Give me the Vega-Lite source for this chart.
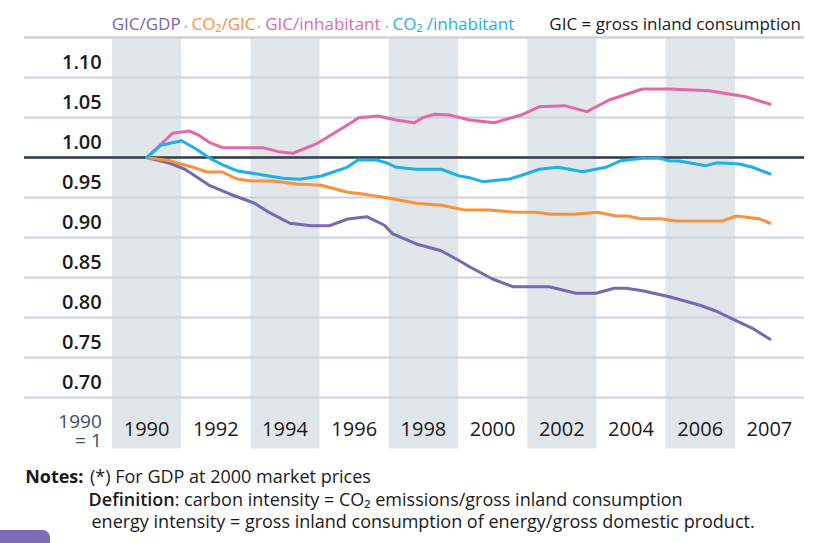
{
  "$schema": "https://vega.github.io/schema/vega-lite/v6.json",
  "width": 780,
  "height": 411,
  "autosize": "none",
  "padding": {"left": 24, "top": 37.5, "right": 18, "bottom": 94.5},
  "background": "white",
  "config": {"view": {"stroke": null}},
  "datasets": {
    "series": [
      {"series": "GIC/GDP", "year": 1990, "value": 1.0},
      {"series": "GIC/GDP", "year": 1990.63, "value": 0.9928},
      {"series": "GIC/GDP", "year": 1991.04, "value": 0.9853},
      {"series": "GIC/GDP", "year": 1991.35, "value": 0.976},
      {"series": "GIC/GDP", "year": 1991.72, "value": 0.9648},
      {"series": "GIC/GDP", "year": 1992.26, "value": 0.9544},
      {"series": "GIC/GDP", "year": 1992.94, "value": 0.9428},
      {"series": "GIC/GDP", "year": 1993.35, "value": 0.931},
      {"series": "GIC/GDP", "year": 1993.9, "value": 0.9178},
      {"series": "GIC/GDP", "year": 1994.49, "value": 0.9148},
      {"series": "GIC/GDP", "year": 1994.99, "value": 0.9148},
      {"series": "GIC/GDP", "year": 1995.48, "value": 0.9231},
      {"series": "GIC/GDP", "year": 1996.0, "value": 0.926},
      {"series": "GIC/GDP", "year": 1996.48, "value": 0.9153},
      {"series": "GIC/GDP", "year": 1996.71, "value": 0.9044},
      {"series": "GIC/GDP", "year": 1997.35, "value": 0.8919},
      {"series": "GIC/GDP", "year": 1998.03, "value": 0.8835},
      {"series": "GIC/GDP", "year": 1998.62, "value": 0.8685},
      {"series": "GIC/GDP", "year": 1998.8, "value": 0.8635},
      {"series": "GIC/GDP", "year": 1999.43, "value": 0.8481},
      {"series": "GIC/GDP", "year": 1999.98, "value": 0.8385},
      {"series": "GIC/GDP", "year": 2000.98, "value": 0.8385},
      {"series": "GIC/GDP", "year": 2001.71, "value": 0.8303},
      {"series": "GIC/GDP", "year": 2002.25, "value": 0.8303},
      {"series": "GIC/GDP", "year": 2002.75, "value": 0.8365},
      {"series": "GIC/GDP", "year": 2003.07, "value": 0.8365},
      {"series": "GIC/GDP", "year": 2003.52, "value": 0.8335},
      {"series": "GIC/GDP", "year": 2004.25, "value": 0.826},
      {"series": "GIC/GDP", "year": 2005.07, "value": 0.8156},
      {"series": "GIC/GDP", "year": 2005.52, "value": 0.8081},
      {"series": "GIC/GDP", "year": 2006.07, "value": 0.796},
      {"series": "GIC/GDP", "year": 2006.52, "value": 0.7865},
      {"series": "GIC/GDP", "year": 2007.0, "value": 0.7728},

      {"series": "CO2/GIC", "year": 1990, "value": 1.0},
      {"series": "CO2/GIC", "year": 1990.63, "value": 0.996},
      {"series": "CO2/GIC", "year": 1991.13, "value": 0.9894},
      {"series": "CO2/GIC", "year": 1991.35, "value": 0.9865},
      {"series": "CO2/GIC", "year": 1991.64, "value": 0.9819},
      {"series": "CO2/GIC", "year": 1992.06, "value": 0.9819},
      {"series": "CO2/GIC", "year": 1992.44, "value": 0.9735},
      {"series": "CO2/GIC", "year": 1992.85, "value": 0.9706},
      {"series": "CO2/GIC", "year": 1993.44, "value": 0.9706},
      {"series": "CO2/GIC", "year": 1994.08, "value": 0.9669},
      {"series": "CO2/GIC", "year": 1994.76, "value": 0.9653},
      {"series": "CO2/GIC", "year": 1995.44, "value": 0.9569},
      {"series": "CO2/GIC", "year": 1995.89, "value": 0.9544},
      {"series": "CO2/GIC", "year": 1996.62, "value": 0.949},
      {"series": "CO2/GIC", "year": 1997.35, "value": 0.9428},
      {"series": "CO2/GIC", "year": 1998.03, "value": 0.9403},
      {"series": "CO2/GIC", "year": 1998.66, "value": 0.9344},
      {"series": "CO2/GIC", "year": 1999.34, "value": 0.9344},
      {"series": "CO2/GIC", "year": 1999.98, "value": 0.9319},
      {"series": "CO2/GIC", "year": 2000.62, "value": 0.9315},
      {"series": "CO2/GIC", "year": 2001.03, "value": 0.929},
      {"series": "CO2/GIC", "year": 2001.66, "value": 0.929},
      {"series": "CO2/GIC", "year": 2002.3, "value": 0.9315},
      {"series": "CO2/GIC", "year": 2002.8, "value": 0.9269},
      {"series": "CO2/GIC", "year": 2003.11, "value": 0.9269},
      {"series": "CO2/GIC", "year": 2003.48, "value": 0.9235},
      {"series": "CO2/GIC", "year": 2004.02, "value": 0.9235},
      {"series": "CO2/GIC", "year": 2004.43, "value": 0.9206},
      {"series": "CO2/GIC", "year": 2005.7, "value": 0.9206},
      {"series": "CO2/GIC", "year": 2006.07, "value": 0.9269},
      {"series": "CO2/GIC", "year": 2006.7, "value": 0.9235},
      {"series": "CO2/GIC", "year": 2007.0, "value": 0.9178},

      {"series": "GIC/inhabitant", "year": 1990, "value": 1.0},
      {"series": "GIC/inhabitant", "year": 1990.7, "value": 1.0303},
      {"series": "GIC/inhabitant", "year": 1991.17, "value": 1.0331},
      {"series": "GIC/inhabitant", "year": 1991.44, "value": 1.0273},
      {"series": "GIC/inhabitant", "year": 1991.72, "value": 1.0185},
      {"series": "GIC/inhabitant", "year": 1992.06, "value": 1.0123},
      {"series": "GIC/inhabitant", "year": 1993.17, "value": 1.0123},
      {"series": "GIC/inhabitant", "year": 1993.58, "value": 1.0073},
      {"series": "GIC/inhabitant", "year": 1993.99, "value": 1.0053},
      {"series": "GIC/inhabitant", "year": 1994.62, "value": 1.0169},
      {"series": "GIC/inhabitant", "year": 1994.99, "value": 1.0273},
      {"series": "GIC/inhabitant", "year": 1995.44, "value": 1.0398},
      {"series": "GIC/inhabitant", "year": 1995.78, "value": 1.0498},
      {"series": "GIC/inhabitant", "year": 1996.3, "value": 1.0519},
      {"series": "GIC/inhabitant", "year": 1996.8, "value": 1.0469},
      {"series": "GIC/inhabitant", "year": 1997.3, "value": 1.0435},
      {"series": "GIC/inhabitant", "year": 1997.53, "value": 1.0498},
      {"series": "GIC/inhabitant", "year": 1997.85, "value": 1.054},
      {"series": "GIC/inhabitant", "year": 1998.25, "value": 1.0531},
      {"series": "GIC/inhabitant", "year": 1998.8, "value": 1.0469},
      {"series": "GIC/inhabitant", "year": 1999.48, "value": 1.0435},
      {"series": "GIC/inhabitant", "year": 2000.21, "value": 1.0531},
      {"series": "GIC/inhabitant", "year": 2000.71, "value": 1.0635},
      {"series": "GIC/inhabitant", "year": 2001.39, "value": 1.0648},
      {"series": "GIC/inhabitant", "year": 2002.0, "value": 1.0573},
      {"series": "GIC/inhabitant", "year": 2002.61, "value": 1.0719},
      {"series": "GIC/inhabitant", "year": 2003.52, "value": 1.0856},
      {"series": "GIC/inhabitant", "year": 2004.25, "value": 1.0856},
      {"series": "GIC/inhabitant", "year": 2005.34, "value": 1.0835},
      {"series": "GIC/inhabitant", "year": 2005.88, "value": 1.0794},
      {"series": "GIC/inhabitant", "year": 2006.34, "value": 1.076},
      {"series": "GIC/inhabitant", "year": 2007.0, "value": 1.0665},

      {"series": "CO2/inhabitant", "year": 1990, "value": 1.0},
      {"series": "CO2/inhabitant", "year": 1990.38, "value": 1.0153},
      {"series": "CO2/inhabitant", "year": 1990.95, "value": 1.021},
      {"series": "CO2/inhabitant", "year": 1991.31, "value": 1.0115},
      {"series": "CO2/inhabitant", "year": 1991.72, "value": 0.999},
      {"series": "CO2/inhabitant", "year": 1992.08, "value": 0.9906},
      {"series": "CO2/inhabitant", "year": 1992.49, "value": 0.9831},
      {"series": "CO2/inhabitant", "year": 1993.17, "value": 0.9781},
      {"series": "CO2/inhabitant", "year": 1993.71, "value": 0.974},
      {"series": "CO2/inhabitant", "year": 1994.17, "value": 0.9728},
      {"series": "CO2/inhabitant", "year": 1994.76, "value": 0.9769},
      {"series": "CO2/inhabitant", "year": 1995.44, "value": 0.9873},
      {"series": "CO2/inhabitant", "year": 1995.76, "value": 0.9969},
      {"series": "CO2/inhabitant", "year": 1996.26, "value": 0.9969},
      {"series": "CO2/inhabitant", "year": 1996.53, "value": 0.9935},
      {"series": "CO2/inhabitant", "year": 1996.8, "value": 0.9878},
      {"series": "CO2/inhabitant", "year": 1997.35, "value": 0.9853},
      {"series": "CO2/inhabitant", "year": 1998.03, "value": 0.9853},
      {"series": "CO2/inhabitant", "year": 1998.53, "value": 0.9769},
      {"series": "CO2/inhabitant", "year": 1998.8, "value": 0.9748},
      {"series": "CO2/inhabitant", "year": 1999.16, "value": 0.9698},
      {"series": "CO2/inhabitant", "year": 1999.89, "value": 0.9731},
      {"series": "CO2/inhabitant", "year": 2000.25, "value": 0.9781},
      {"series": "CO2/inhabitant", "year": 2000.71, "value": 0.9853},
      {"series": "CO2/inhabitant", "year": 2001.21, "value": 0.9878},
      {"series": "CO2/inhabitant", "year": 2001.89, "value": 0.9823},
      {"series": "CO2/inhabitant", "year": 2002.52, "value": 0.9878},
      {"series": "CO2/inhabitant", "year": 2002.93, "value": 0.996},
      {"series": "CO2/inhabitant", "year": 2003.52, "value": 0.999},
      {"series": "CO2/inhabitant", "year": 2003.98, "value": 0.999},
      {"series": "CO2/inhabitant", "year": 2004.25, "value": 0.996},
      {"series": "CO2/inhabitant", "year": 2004.52, "value": 0.9956},
      {"series": "CO2/inhabitant", "year": 2005.25, "value": 0.9898},
      {"series": "CO2/inhabitant", "year": 2005.56, "value": 0.9935},
      {"series": "CO2/inhabitant", "year": 2006.16, "value": 0.9919},
      {"series": "CO2/inhabitant", "year": 2006.52, "value": 0.9878},
      {"series": "CO2/inhabitant", "year": 2007.0, "value": 0.9794}
    ],
    "grid": [
      {"v": 0.70, "label": "0.70"}, {"v": 0.75, "label": "0.75"}, {"v": 0.80, "label": "0.80"},
      {"v": 0.85, "label": "0.85"}, {"v": 0.90, "label": "0.90"}, {"v": 0.95, "label": "0.95"},
      {"v": 1.00, "label": "1.00"}, {"v": 1.05, "label": "1.05"}, {"v": 1.10, "label": "1.10"},
      {"v": 1.15, "label": ""}
    ]
  },
  "layer": [
    {
      "layer": [
        {
          "data": {"values": [{"label": "1990"}, {"label": "1994"}, {"label": "1998"}, {"label": "2002"}, {"label": "2006"}]},
          "mark": {"type": "rect", "color": "#e1e6eb"},
          "encoding": {
            "x": {"field": "label", "type": "ordinal", "sort": null, "axis": null,
                  "scale": {"type": "band", "domain": ["1990","1992","1994","1996","1998","2000","2002","2004","2006","2007"], "paddingInner": 0, "paddingOuter": 0.6358, "align": 1}}
          }
        },
        {
          "data": {"values": [{"label": "1990"}, {"label": "1992"}, {"label": "1994"}, {"label": "1996"}, {"label": "1998"}, {"label": "2000"}, {"label": "2002"}, {"label": "2004"}, {"label": "2006"}, {"label": "2007"}]},
          "mark": {"type": "text", "font": "Open Sans", "fontSize": 20, "baseline": "alphabetic", "align": "center", "color": "#1a1a1a"},
          "encoding": {
            "x": {"field": "label", "type": "ordinal", "sort": null, "axis": null,
                  "scale": {"type": "band", "domain": ["1990","1992","1994","1996","1998","2000","2002","2004","2006","2007"], "paddingInner": 0, "paddingOuter": 0.6358, "align": 1}},
            "y": {"datum": 0.6523, "type": "quantitative", "axis": null, "scale": {"domain": [0.63625, 1.15], "zero": false, "nice": false}},
            "text": {"field": "label"}
          }
        }
      ]
    },
    {
      "data": {"name": "grid"},
      "mark": {"type": "rule", "color": "#cbd2d9"},
      "encoding": {
        "y": {"field": "v", "type": "quantitative", "axis": null, "scale": {"domain": [0.63625, 1.15], "zero": false, "nice": false}},
        "strokeWidth": {"condition": {"test": "datum.v > 1.14", "value": 2.5}, "value": 2}
      }
    },
    {
      "data": {"values": [{"v": 1.0}]},
      "mark": {"type": "rule", "color": "#2b3d48", "strokeWidth": 2.5},
      "encoding": {
        "y": {"field": "v", "type": "quantitative", "axis": null, "scale": {"domain": [0.63625, 1.15], "zero": false, "nice": false}}
      }
    },
    {
      "layer": [
        {
          "data": {"name": "series"},
          "mark": {"type": "line", "strokeWidth": 3, "strokeJoin": "round", "strokeCap": "round"},
          "encoding": {
            "x": {"field": "year", "type": "quantitative", "axis": null, "scale": {"domain": [1986.649, 2007.926], "zero": false, "nice": false}},
            "y": {"field": "value", "type": "quantitative", "axis": null, "scale": {"domain": [0.63625, 1.15], "zero": false, "nice": false}},
            "color": {"field": "series", "type": "nominal", "legend": null,
                      "scale": {"domain": ["GIC/GDP", "CO2/GIC", "GIC/inhabitant", "CO2/inhabitant"], "range": ["#7668b1", "#f7923d", "#de6ba8", "#1eb0e6"]}}
          }
        },
        {
          "data": {"name": "grid"},
          "mark": {"type": "text", "font": "Open Sans", "fontSize": 20, "fontWeight": 600, "align": "right", "baseline": "alphabetic", "dy": -8.5, "color": "#1a1a1a"},
          "encoding": {
            "x": {"datum": 1988.77, "type": "quantitative", "axis": null, "scale": {"domain": [1986.649, 2007.926], "zero": false, "nice": false}},
            "y": {"field": "v", "type": "quantitative", "axis": null, "scale": {"domain": [0.63625, 1.15], "zero": false, "nice": false}},
            "text": {"field": "label"}
          }
        },
        {
          "data": {"values": [{"t": "GIC/GDP"}]},
          "mark": {"type": "text", "font": "Open Sans", "fontSize": 17, "align": "left", "baseline": "alphabetic", "color": "#7668b1"},
          "encoding": {
            "x": {"datum": 1989.04, "type": "quantitative", "axis": null, "scale": {"domain": [1986.649, 2007.926], "zero": false, "nice": false}},
            "y": {"datum": 1.1594, "type": "quantitative", "axis": null, "scale": {"domain": [0.63625, 1.15], "zero": false, "nice": false}},
            "text": {"field": "t"}
          }
        },
        {
          "data": {"values": [{"t": "CO₂/GIC"}]},
          "mark": {"type": "text", "font": "Open Sans", "fontSize": 17, "align": "left", "baseline": "alphabetic", "color": "#f7923d"},
          "encoding": {
            "x": {"datum": 1991.22, "type": "quantitative", "axis": null, "scale": {"domain": [1986.649, 2007.926], "zero": false, "nice": false}},
            "y": {"datum": 1.1594, "type": "quantitative", "axis": null, "scale": {"domain": [0.63625, 1.15], "zero": false, "nice": false}},
            "text": {"field": "t"}
          }
        },
        {
          "data": {"values": [{"t": "GIC/inhabitant"}]},
          "mark": {"type": "text", "font": "Open Sans", "fontSize": 17, "align": "left", "baseline": "alphabetic", "color": "#de6ba8"},
          "encoding": {
            "x": {"datum": 1993.23, "type": "quantitative", "axis": null, "scale": {"domain": [1986.649, 2007.926], "zero": false, "nice": false}},
            "y": {"datum": 1.1594, "type": "quantitative", "axis": null, "scale": {"domain": [0.63625, 1.15], "zero": false, "nice": false}},
            "text": {"field": "t"}
          }
        },
        {
          "data": {"values": [{"t": "CO₂ /inhabitant"}]},
          "mark": {"type": "text", "font": "Open Sans", "fontSize": 17, "align": "left", "baseline": "alphabetic", "color": "#1eb0e6"},
          "encoding": {
            "x": {"datum": 1996.70, "type": "quantitative", "axis": null, "scale": {"domain": [1986.649, 2007.926], "zero": false, "nice": false}},
            "y": {"datum": 1.1594, "type": "quantitative", "axis": null, "scale": {"domain": [0.63625, 1.15], "zero": false, "nice": false}},
            "text": {"field": "t"}
          }
        },
        {
          "data": {"values": [{"d": 1991.06}, {"d": 1993.05}, {"d": 1996.55}]},
          "mark": {"type": "text", "font": "DejaVu Sans", "fontSize": 8, "align": "center", "baseline": "alphabetic", "color": "#b5bdc5", "text": "•"},
          "encoding": {
            "x": {"field": "d", "type": "quantitative", "axis": null, "scale": {"domain": [1986.649, 2007.926], "zero": false, "nice": false}},
            "y": {"datum": 1.1594, "type": "quantitative", "axis": null, "scale": {"domain": [0.63625, 1.15], "zero": false, "nice": false}}
          }
        },
        {
          "data": {"values": [{"t": "GIC = gross inland consumption"}]},
          "mark": {"type": "text", "font": "Open Sans", "fontSize": 17, "align": "right", "baseline": "alphabetic", "color": "#1a1a1a"},
          "encoding": {
            "x": {"datum": 2007.84, "type": "quantitative", "axis": null, "scale": {"domain": [1986.649, 2007.926], "zero": false, "nice": false}},
            "y": {"datum": 1.1594, "type": "quantitative", "axis": null, "scale": {"domain": [0.63625, 1.15], "zero": false, "nice": false}},
            "text": {"field": "t"}
          }
        },
        {
          "data": {"values": [{"t": "1990"}]},
          "mark": {"type": "text", "font": "Open Sans", "fontSize": 19, "align": "right", "baseline": "alphabetic", "color": "#3d4f5b"},
          "encoding": {
            "x": {"datum": 1988.77, "type": "quantitative", "axis": null, "scale": {"domain": [1986.649, 2007.926], "zero": false, "nice": false}},
            "y": {"datum": 0.6615, "type": "quantitative", "axis": null, "scale": {"domain": [0.63625, 1.15], "zero": false, "nice": false}},
            "text": {"field": "t"}
          }
        },
        {
          "data": {"values": [{"t": "= 1"}]},
          "mark": {"type": "text", "font": "Open Sans", "fontSize": 19, "align": "right", "baseline": "alphabetic", "color": "#3d4f5b"},
          "encoding": {
            "x": {"datum": 1988.77, "type": "quantitative", "axis": null, "scale": {"domain": [1986.649, 2007.926], "zero": false, "nice": false}},
            "y": {"datum": 0.6385, "type": "quantitative", "axis": null, "scale": {"domain": [0.63625, 1.15], "zero": false, "nice": false}},
            "text": {"field": "t"}
          }
        },
        {
          "data": {"values": [{"t": "Notes:"}]},
          "mark": {"type": "text", "font": "Open Sans", "fontSize": 18, "fontWeight": 700, "align": "left", "baseline": "alphabetic", "color": "#1a1a1a"},
          "encoding": {
            "x": {"datum": 1986.68, "type": "quantitative", "axis": null, "scale": {"domain": [1986.649, 2007.926], "zero": false, "nice": false}},
            "y": {"datum": 0.59275, "type": "quantitative", "axis": null, "scale": {"domain": [0.63625, 1.15], "zero": false, "nice": false}},
            "text": {"field": "t"}
          }
        },
        {
          "data": {"values": [{"t": "(*) For GDP at 2000 market prices"}]},
          "mark": {"type": "text", "font": "Open Sans", "fontSize": 18, "align": "left", "baseline": "alphabetic", "color": "#1a1a1a"},
          "encoding": {
            "x": {"datum": 1988.45, "type": "quantitative", "axis": null, "scale": {"domain": [1986.649, 2007.926], "zero": false, "nice": false}},
            "y": {"datum": 0.59275, "type": "quantitative", "axis": null, "scale": {"domain": [0.63625, 1.15], "zero": false, "nice": false}},
            "text": {"field": "t"}
          }
        },
        {
          "data": {"values": [{"t": "Definition"}]},
          "mark": {"type": "text", "font": "Open Sans", "fontSize": 18, "fontWeight": 600, "align": "right", "baseline": "alphabetic", "color": "#1a1a1a"},
          "encoding": {
            "x": {"datum": 1990.76, "type": "quantitative", "axis": null, "scale": {"domain": [1986.649, 2007.926], "zero": false, "nice": false}},
            "y": {"datum": 0.5644, "type": "quantitative", "axis": null, "scale": {"domain": [0.63625, 1.15], "zero": false, "nice": false}},
            "text": {"field": "t"}
          }
        },
        {
          "data": {"values": [{"t": ": carbon intensity = CO₂ emissions/gross inland consumption"}]},
          "mark": {"type": "text", "font": "Open Sans", "fontSize": 18, "align": "left", "baseline": "alphabetic", "color": "#1a1a1a"},
          "encoding": {
            "x": {"datum": 1990.76, "type": "quantitative", "axis": null, "scale": {"domain": [1986.649, 2007.926], "zero": false, "nice": false}},
            "y": {"datum": 0.5644, "type": "quantitative", "axis": null, "scale": {"domain": [0.63625, 1.15], "zero": false, "nice": false}},
            "text": {"field": "t"}
          }
        },
        {
          "data": {"values": [{"t": "energy intensity = gross inland consumption of energy/gross domestic product."}]},
          "mark": {"type": "text", "font": "Open Sans", "fontSize": 18, "align": "left", "baseline": "alphabetic", "color": "#1a1a1a"},
          "encoding": {
            "x": {"datum": 1988.49, "type": "quantitative", "axis": null, "scale": {"domain": [1986.649, 2007.926], "zero": false, "nice": false}},
            "y": {"datum": 0.5369, "type": "quantitative", "axis": null, "scale": {"domain": [0.63625, 1.15], "zero": false, "nice": false}},
            "text": {"field": "t"}
          }
        },
        {
          "data": {"values": [{"t": "tab"}]},
          "mark": {"type": "rect", "color": "#7b6db5", "cornerRadiusTopRight": 14},
          "encoding": {
            "x": {"datum": 1985.995, "type": "quantitative", "axis": null, "scale": {"domain": [1986.649, 2007.926], "zero": false, "nice": false}},
            "x2": {"datum": 1987.357},
            "y": {"datum": 0.53438, "type": "quantitative", "axis": null, "scale": {"domain": [0.63625, 1.15], "zero": false, "nice": false}},
            "y2": {"datum": 0.5156}
          }
        }
      ]
    }
  ],
  "resolve": {"scale": {"x": "independent"}}
}
